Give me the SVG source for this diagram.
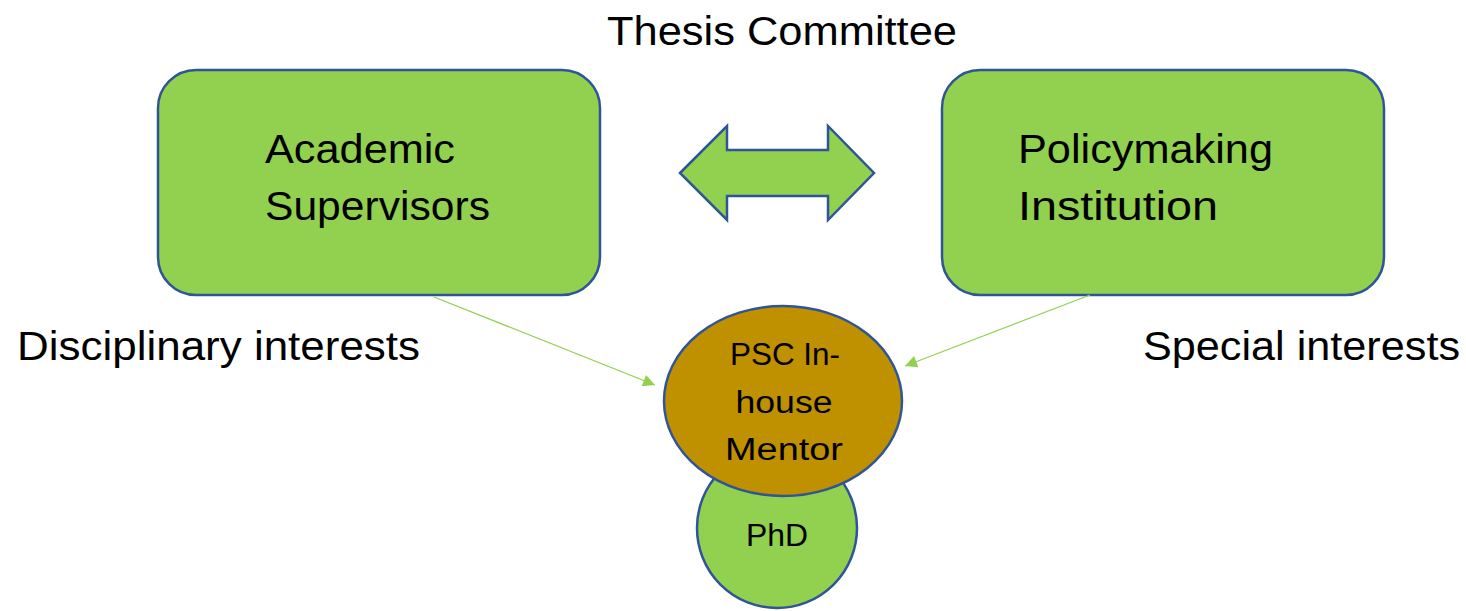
<svg xmlns="http://www.w3.org/2000/svg" width="1466" height="611" viewBox="0 0 1466 611">
<style>
.shape{fill:#92D050;stroke:#2F5597;stroke-width:2.5}
.mentor{fill:#BF9000;stroke:#2F5597;stroke-width:2.5}
.t{font-family:"Liberation Sans",Arial,sans-serif;fill:#000}
.big{font-size:40px}
.mid{font-size:31px}
.conn{stroke:#92D050;stroke-width:1.2;fill:none}
</style>
<defs>
<marker id="ah" viewBox="0 0 10 10" refX="10" refY="5" markerWidth="16" markerHeight="12" markerUnits="userSpaceOnUse" orient="auto">
<path d="M0,0 L10,5 L0,10 z" fill="#92D050"/>
</marker>
</defs>
<rect width="1466" height="611" fill="#fff"/>
<text class="t big" x="782" y="45" text-anchor="middle" textLength="350" lengthAdjust="spacingAndGlyphs">Thesis Committee</text>
<g id="academic">
<rect class="shape" x="158" y="70" width="442" height="225" rx="38" ry="38"/>
<text class="t big" x="265" y="163" textLength="190" lengthAdjust="spacingAndGlyphs">Academic</text>
<text class="t big" x="265" y="220" textLength="225" lengthAdjust="spacingAndGlyphs">Supervisors</text>
</g>
<g id="policy">
<rect class="shape" x="942" y="70" width="442" height="225" rx="38" ry="38"/>
<text class="t big" x="1018" y="163" textLength="255" lengthAdjust="spacingAndGlyphs">Policymaking</text>
<text class="t big" x="1018" y="220" textLength="200" lengthAdjust="spacingAndGlyphs">Institution</text>
</g>
<g id="double-arrow">
<path class="shape" d="M680,173 L727,126 L727,150 L828,150 L828,126 L874,173 L828,220 L828,196 L727,196 L727,220 Z"/>
</g>
<g id="labels">
<text class="t big" x="17" y="360" textLength="403" lengthAdjust="spacingAndGlyphs">Disciplinary interests</text>
<text class="t big" x="1143" y="360" textLength="317" lengthAdjust="spacingAndGlyphs">Special interests</text>
</g>
<g id="connectors">
<line class="conn" x1="434" y1="297" x2="655" y2="385" marker-end="url(#ah)"/>
<line class="conn" x1="1090" y1="295" x2="905" y2="366" marker-end="url(#ah)"/>
</g>
<g id="phd">
<circle class="shape" cx="777" cy="528" r="80"/>
<text class="t mid" x="777" y="546" text-anchor="middle" textLength="62" lengthAdjust="spacingAndGlyphs">PhD</text>
</g>
<g id="mentor">
<ellipse class="mentor" cx="783" cy="401" rx="119" ry="95"/>
<text class="t mid" x="785" y="365" text-anchor="middle" textLength="110" lengthAdjust="spacingAndGlyphs">PSC In-</text>
<text class="t mid" x="784" y="413" text-anchor="middle" textLength="97" lengthAdjust="spacingAndGlyphs">house</text>
<text class="t mid" x="784" y="460" text-anchor="middle" textLength="118" lengthAdjust="spacingAndGlyphs">Mentor</text>
</g>
</svg>
